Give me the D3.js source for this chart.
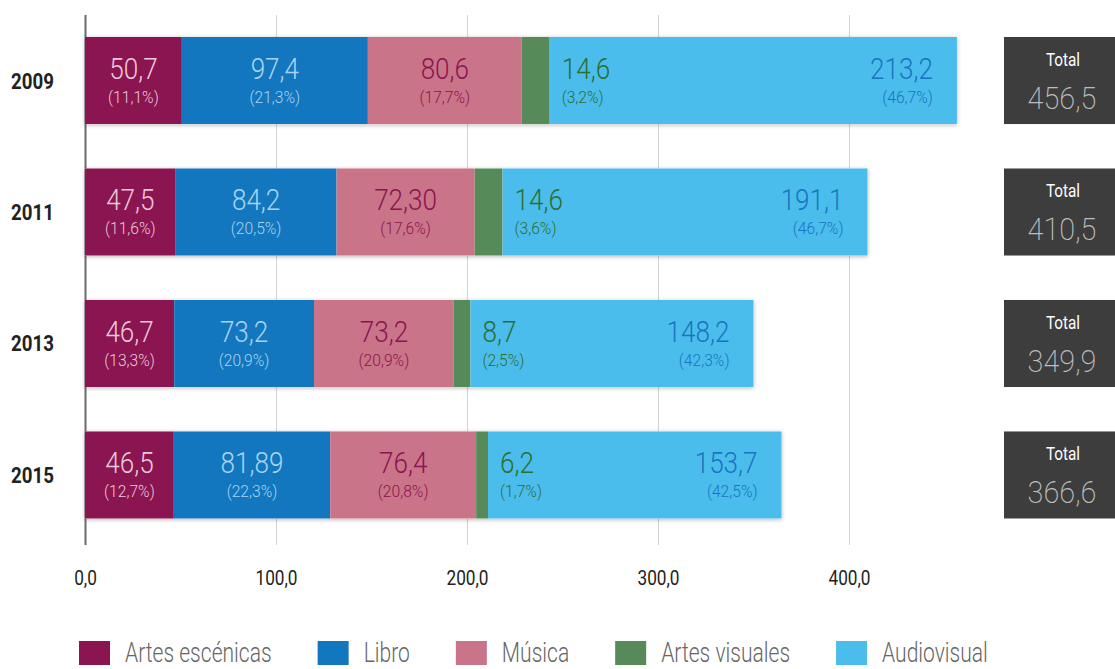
<!DOCTYPE html>
<html>
<head>
<meta charset="utf-8">
<script src="https://cdn.jsdelivr.net/npm/d3@7"></script>
<style>
  body { margin: 0; background: #fff; }
  svg { display: block; }
  text { font-family: Roboto, "Liberation Sans", sans-serif; }
</style>
</head>
<body>
<script>
var w = 1115;
var h = 669;

// data
var years = ["2009", "2011", "2013", "2015"];
var series = ["Artes escénicas", "Libro", "Música", "Artes visuales", "Audiovisual"];
var artesEscenicas = [50.7, 47.5, 46.7, 46.5];
var libro = [97.4, 84.2, 73.2, 81.89];
var musica = [80.6, 72.3, 73.2, 76.4];
var artesVisuales = [14.6, 14.6, 8.7, 6.2];
var audiovisual = [213.2, 191.1, 148.2, 153.7];
var pctArtesEscenicas = [11.1, 11.6, 13.3, 12.7];
var pctLibro = [21.3, 20.5, 20.9, 22.3];
var pctMusica = [17.7, 17.6, 20.9, 20.8];
var pctArtesVisuales = [3.2, 3.6, 2.5, 1.7];
var pctAudiovisual = [46.7, 46.7, 42.3, 42.5];
var totals = [456.5, 410.5, 349.9, 366.6];
// decimals shown on each value label
var decimals = [
    [1, 1, 1, 1],
    [1, 1, 1, 2],
    [1, 2, 1, 1],
    [1, 1, 1, 1],
    [1, 1, 1, 1]
];
var xTicks = [0, 100, 200, 300, 400];

var values = [artesEscenicas, libro, musica, artesVisuales, audiovisual];
var pcts = [pctArtesEscenicas, pctLibro, pctMusica, pctArtesVisuales, pctAudiovisual];
var colors = ["#8a1550", "#1277be", "#c97489", "#568a58", "#4bbdec"];
var valueColors = ["#ecc9dc", "#aad3f0", "#8a1550", "#2e6e30", "#1874c0"];

function fmt(v, d) {
    return v.toFixed(d).replace(".", ",");
}

var x = d3.scaleLinear().domain([0, 400]).range([85, 85 + 400 * 1.91]);
var y = d3.scaleBand().domain(years).range([37, 518.5]).paddingInner(0.338).paddingOuter(0);

var svg = d3.select("body")
    .append("svg")
    .attr("width", w)
    .attr("height", h);

var defs = svg.append("defs");
defs.append("filter")
    .attr("id", "shadow")
    .attr("x", "-5%").attr("y", "-20%")
    .attr("width", "110%").attr("height", "140%")
    .append("feDropShadow")
    .attr("dx", 0).attr("dy", 1)
    .attr("stdDeviation", 2)
    .attr("flood-color", "#000")
    .attr("flood-opacity", 0.3);

// gridlines + axis
var axis = d3.axisBottom(x)
    .tickValues(xTicks)
    .tickSize(-530)
    .tickFormat(function (d) { return fmt(d, 1); });

var gAxis = svg.append("g")
    .attr("transform", "translate(0,545)")
    .call(axis);
gAxis.select(".domain").remove();
gAxis.selectAll(".tick line")
    .attr("stroke", function (d) { return d === 0 ? "#6b6b6b" : "#d4d4d4"; })
    .attr("stroke-width", function (d) { return d === 0 ? 2 : 1; });
gAxis.selectAll(".tick text")
    .attr("fill", "#222")
    .attr("y", 0)
    .attr("dy", 0)
    .attr("transform", "translate(0,40) scale(0.82,1)")
    .style("font-size", "21px");

// stacked rows
var rows = years.map(function (yr, i) {
    var x0 = 0;
    var segs = series.map(function (s, j) {
        var seg = { s: j, start: x0, end: x0 + values[j][i], v: values[j][i], p: pcts[j][i], d: decimals[j][i] };
        x0 += values[j][i];
        return seg;
    });
    return { year: yr, i: i, segs: segs, total: x0 };
});

var row = svg.selectAll("g.row")
    .data(rows)
    .enter()
    .append("g")
    .attr("class", "row")
    .attr("transform", function (d) { return "translate(0," + y(d.year) + ")"; });

var bh = y.bandwidth();

row.append("rect")
    .attr("x", x(0))
    .attr("y", 0)
    .attr("width", function (d) { return x(d.total) - x(0); })
    .attr("height", bh)
    .attr("fill", "#fff")
    .attr("filter", "url(#shadow)");

row.selectAll("rect.seg")
    .data(function (d) { return d.segs; })
    .enter()
    .append("rect")
    .attr("class", "seg")
    .attr("x", function (d) { return x(d.start); })
    .attr("y", 0)
    .attr("width", function (d) { return x(d.end) - x(d.start); })
    .attr("height", bh)
    .attr("fill", function (d) { return colors[d.s]; });

function labelX(d) {
    if (d.s === 3) return x(d.end) + 12;
    if (d.s === 4) return x(d.end) - 24;
    return (x(d.start) + x(d.end)) / 2;
}
function labelAnchor(d) {
    if (d.s === 3) return "start";
    if (d.s === 4) return "end";
    return "middle";
}

var labels = row.selectAll("g.lbl")
    .data(function (d) { return d.segs; })
    .enter()
    .append("g")
    .attr("class", "lbl");

labels.append("text")
    .attr("transform", function (d) { return "translate(" + labelX(d) + ",42) scale(0.9,1)"; })
    .attr("text-anchor", labelAnchor)
    .attr("fill", function (d) { return valueColors[d.s]; })
    .style("font-size", "29px")
    .style("font-weight", 300)
    .text(function (d) { return fmt(d.v, d.d); });

labels.append("text")
    .attr("transform", function (d) { return "translate(" + labelX(d) + ",66) scale(0.92,1)"; })
    .attr("text-anchor", labelAnchor)
    .attr("fill", function (d) { return valueColors[d.s]; })
    .style("font-size", "17px")
    .style("font-weight", 300)
    .text(function (d) { return "(" + fmt(d.p, 1) + "%)"; });

// year labels
row.append("text")
    .attr("transform", "translate(54," + (bh / 2 + 8) + ") scale(0.85,1)")
    .attr("text-anchor", "end")
    .attr("fill", "#222")
    .style("font-weight", "bold")
    .style("font-size", "22px")
    .text(function (d) { return d.year; });

// total boxes
var box = row.append("g")
    .attr("transform", "translate(1004,0)");
box.append("rect")
    .attr("width", 120)
    .attr("height", bh)
    .attr("fill", "#3d3d3d");
box.append("text")
    .attr("transform", "translate(59,29) scale(0.85,1)")
    .attr("text-anchor", "middle")
    .attr("fill", "#fff")
    .style("font-size", "18px")
    .text("Total");
box.append("text")
    .attr("transform", "translate(58,72) scale(0.93,1)")
    .attr("text-anchor", "middle")
    .attr("fill", "#bdbdbd")
    .style("font-size", "31px")
    .style("font-weight", 200)
    .text(function (d) { return fmt(totals[d.i], 1); });

// legend
var legend = svg.append("g").attr("transform", "translate(79,641)");
var lx = 0;
series.forEach(function (s, j) {
    var g = legend.append("g").attr("transform", "translate(" + lx + ",0)");
    g.append("rect")
        .attr("width", 31)
        .attr("height", 24)
        .attr("fill", colors[j]);
    var t = g.append("text")
        .attr("transform", "translate(46,21) scale(0.78,1)")
        .attr("fill", "#666")
        .style("font-size", "27px")
        .style("font-weight", 300)
        .text(s);
    lx += 46 + t.node().getComputedTextLength() * 0.78 + 46;
});
</script>
</body>
</html>
